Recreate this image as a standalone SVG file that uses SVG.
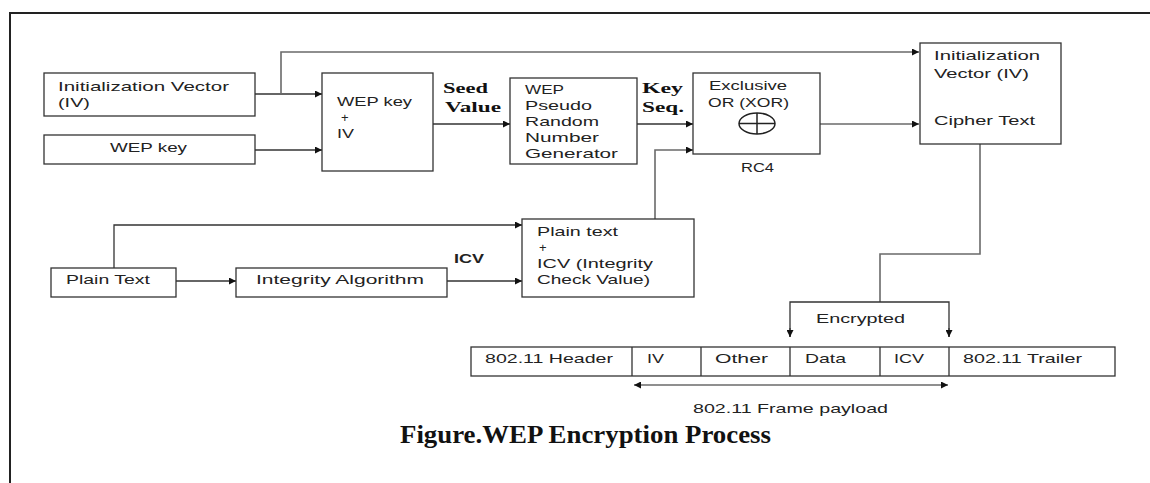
<svg xmlns="http://www.w3.org/2000/svg" width="1150" height="483" viewBox="0 0 1150 483">
<style>
.box{fill:#fff;stroke:#333;stroke-width:1.3}
.t{font-family:"Liberation Sans",Arial,sans-serif;font-size:13px;fill:#222}
.b{font-family:"Liberation Serif",serif;font-size:15px;font-weight:bold;fill:#111}
.bs{font-family:"Liberation Sans",Arial,sans-serif;font-size:13px;font-weight:bold;fill:#222}
.ln{fill:none;stroke:#333;stroke-width:1.3}
.lg{fill:none;stroke:#6a6a6a;stroke-width:1.6}
.cap{font-family:"Liberation Serif",serif;font-size:25px;font-weight:bold;fill:#111}
</style>
<defs>
<marker id="ah" viewBox="0 0 10 10" refX="10" refY="5" markerWidth="9" markerHeight="7" markerUnits="userSpaceOnUse" orient="auto-start-reverse">
<path d="M0,0 L10,5 L0,10 z" fill="#111"/>
</marker>
</defs>
<rect width="1150" height="483" fill="#fff"/>
<path d="M10,483 L10,13 L1150,13" fill="none" stroke="#222" stroke-width="2"/>

<g id="connectors">
<path class="ln" d="M255,94 L322,94" marker-end="url(#ah)"/>
<path class="lg" d="M281,94 L281,52 L919,52" marker-end="url(#ah)"/>
<path class="ln" d="M255,150 L322,150" marker-end="url(#ah)"/>
<path class="ln" d="M433,124 L510,124" marker-end="url(#ah)"/>
<path class="ln" d="M637,124 L693,124" marker-end="url(#ah)"/>
<path class="lg" d="M655,219 L655,150 L693,150" marker-end="url(#ah)"/>
<path class="lg" d="M820,124 L919,124" marker-end="url(#ah)"/>
<path class="ln" d="M176,281 L236,281" marker-end="url(#ah)"/>
<path class="ln" d="M114,268 L114,225 L522,225" marker-end="url(#ah)"/>
<path class="ln" d="M447,281 L522,281" marker-end="url(#ah)"/>
<path class="lg" d="M980,144 L980,254 L880,254 L880,302"/>
<path class="ln" d="M790,337 L790,302 L949,302 L949,337"/>
<path class="ln" d="M790,328 L790,337" marker-end="url(#ah)"/>
<path class="ln" d="M949,328 L949,337" marker-end="url(#ah)"/>
<path class="lg" d="M634,385 L948,385" marker-start="url(#ah)" marker-end="url(#ah)"/>
</g>

<g id="iv">
<rect class="box" x="44" y="73" width="211" height="43"/>
<text class="t" x="58" y="90.5" textLength="171" lengthAdjust="spacingAndGlyphs">Initialization Vector</text>
<text class="t" x="58" y="107" textLength="32" lengthAdjust="spacingAndGlyphs">(IV)</text>
</g>
<g id="wepkey">
<rect class="box" x="44" y="135" width="211" height="29"/>
<text class="t" x="110" y="151.5" textLength="77" lengthAdjust="spacingAndGlyphs">WEP key</text>
</g>
<g id="wepkeyiv">
<rect class="box" x="322" y="73" width="111" height="98"/>
<text class="t" x="337" y="106" textLength="75" lengthAdjust="spacingAndGlyphs">WEP key</text>
<text class="t" x="341" y="122">+</text>
<text class="t" x="337" y="138" textLength="17" lengthAdjust="spacingAndGlyphs">IV</text>
</g>
<g id="seed">
<text class="b" x="443" y="93" textLength="45" lengthAdjust="spacingAndGlyphs">Seed</text>
<text class="b" x="445" y="111.5" textLength="56" lengthAdjust="spacingAndGlyphs">Value</text>
</g>
<g id="prng">
<rect class="box" x="510" y="78" width="127" height="86"/>
<text class="t" x="525" y="94" textLength="39" lengthAdjust="spacingAndGlyphs">WEP</text>
<text class="t" x="525" y="110" textLength="67" lengthAdjust="spacingAndGlyphs">Pseudo</text>
<text class="t" x="525" y="126" textLength="74" lengthAdjust="spacingAndGlyphs">Random</text>
<text class="t" x="525" y="142" textLength="74" lengthAdjust="spacingAndGlyphs">Number</text>
<text class="t" x="525" y="157.5" textLength="93" lengthAdjust="spacingAndGlyphs">Generator</text>
</g>
<g id="keyseq">
<text class="b" x="642" y="93" textLength="41" lengthAdjust="spacingAndGlyphs">Key</text>
<text class="b" x="642" y="111.5" textLength="42" lengthAdjust="spacingAndGlyphs">Seq.</text>
</g>
<g id="xor">
<rect class="box" x="693" y="73" width="127" height="81"/>
<text class="t" x="709" y="90" textLength="78" lengthAdjust="spacingAndGlyphs">Exclusive</text>
<text class="t" x="708" y="106.5" textLength="81" lengthAdjust="spacingAndGlyphs">OR (XOR)</text>
<ellipse cx="757" cy="123.5" rx="18" ry="10.5" fill="none" stroke="#222" stroke-width="1.5"/>
<path d="M739,123.5 L775,123.5 M757,113 L757,134" stroke="#222" stroke-width="1.5"/>
<text class="t" x="741" y="171.5" textLength="33" lengthAdjust="spacingAndGlyphs">RC4</text>
</g>
<g id="output">
<rect class="box" x="920" y="43" width="141" height="101"/>
<text class="t" x="934" y="60" textLength="106" lengthAdjust="spacingAndGlyphs">Initialization</text>
<text class="t" x="934" y="78" textLength="95" lengthAdjust="spacingAndGlyphs">Vector (IV)</text>
<text class="t" x="934" y="125" textLength="101" lengthAdjust="spacingAndGlyphs">Cipher Text</text>
</g>
<g id="plaintext">
<rect class="box" x="51" y="268" width="125" height="29"/>
<text class="t" x="66" y="284" textLength="84" lengthAdjust="spacingAndGlyphs">Plain Text</text>
</g>
<g id="integrity">
<rect class="box" x="236" y="268" width="211" height="29"/>
<text class="t" x="256" y="284" textLength="168" lengthAdjust="spacingAndGlyphs">Integrity Algorithm</text>
</g>
<g id="icvlabel">
<text class="bs" x="454" y="263" textLength="30" lengthAdjust="spacingAndGlyphs">ICV</text>
</g>
<g id="plainicv">
<rect class="box" x="522" y="219" width="172" height="78"/>
<text class="t" x="537" y="236" textLength="81" lengthAdjust="spacingAndGlyphs">Plain text</text>
<text class="t" x="539" y="252">+</text>
<text class="t" x="537" y="268" textLength="116" lengthAdjust="spacingAndGlyphs">ICV (Integrity</text>
<text class="t" x="537" y="284" textLength="113" lengthAdjust="spacingAndGlyphs">Check Value)</text>
</g>
<g id="encrypted">
<text class="t" x="816" y="323" textLength="89" lengthAdjust="spacingAndGlyphs">Encrypted</text>
</g>
<g id="frame">
<rect class="box" x="471" y="347" width="644" height="29"/>
<path class="ln" d="M632,347 L632,376 M701,347 L701,376 M790,347 L790,376 M880,347 L880,376 M949,347 L949,376"/>
<text class="t" x="485" y="363" textLength="128" lengthAdjust="spacingAndGlyphs">802.11 Header</text>
<text class="t" x="647" y="363" textLength="17" lengthAdjust="spacingAndGlyphs">IV</text>
<text class="t" x="715" y="363" textLength="53" lengthAdjust="spacingAndGlyphs">Other</text>
<text class="t" x="805" y="363" textLength="41" lengthAdjust="spacingAndGlyphs">Data</text>
<text class="t" x="894" y="363" textLength="30" lengthAdjust="spacingAndGlyphs">ICV</text>
<text class="t" x="963" y="363" textLength="119" lengthAdjust="spacingAndGlyphs">802.11 Trailer</text>
</g>
<g id="payload">
<text class="t" x="693" y="413" textLength="195" lengthAdjust="spacingAndGlyphs">802.11  Frame payload</text>
</g>
<g id="caption">
<text class="cap" x="400" y="443" textLength="371" lengthAdjust="spacingAndGlyphs">Figure.WEP Encryption Process</text>
</g>
</svg>
